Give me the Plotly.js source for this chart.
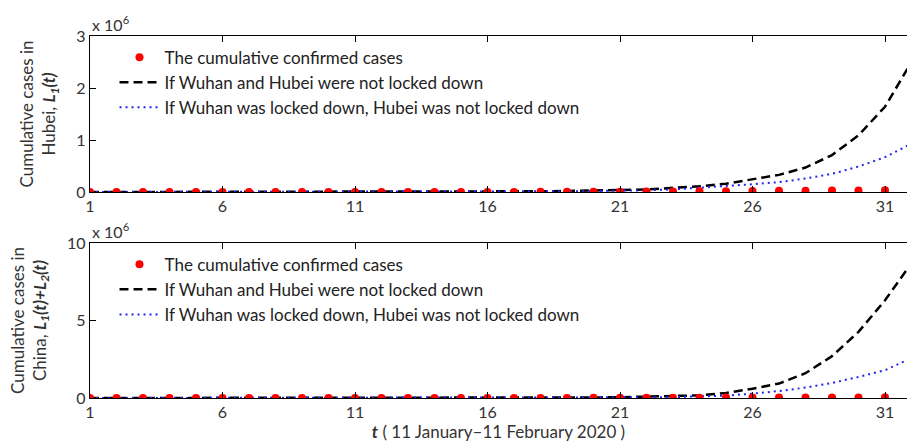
<!DOCTYPE html>
<html>
<head>
<meta charset="utf-8">
<script src="https://cdn.plot.ly/plotly-3.0.1.min.js"></script>
<style>html,body{margin:0;padding:0;background:#fff;overflow:hidden}</style>
</head>
<body>
<div id="chart" style="width:907px;height:447px"></div>
<script>
// t = 1 ... 32 (11 January – 11 February 2020)
const days = Array.from({length: 32}, (_, i) => i + 1);
const xTickVals = [1, 6, 11, 16, 21, 26, 31];

// Cumulative confirmed cases
const hubeiConfirmed = [41, 41, 41, 41, 41, 45, 62, 121, 198, 270, 375, 444, 549, 729, 1052, 1423,
  2714, 3554, 4586, 5806, 7153, 9074, 11177, 13522, 16678, 19665, 22112, 24953, 27100, 29631, 31728, 33366];
const chinaConfirmed = [41, 41, 41, 41, 41, 45, 62, 121, 201, 291, 440, 571, 830, 1287, 1975, 2744,
  4515, 5974, 7711, 9692, 11791, 14380, 17205, 20438, 24324, 28018, 31161, 34546, 37198, 40171, 42638, 44653];

// Model: Wuhan and Hubei not locked down
const hubeiNoLock = [60, 80, 110, 150, 200, 280, 380, 520, 700, 950, 1300, 1800, 2500, 3500, 5000, 7000,
  10000, 14000, 19000, 26000, 35000, 50000, 80000, 110000, 160000, 240000, 330000, 470000, 710000, 1090000, 1640000, 2500000];
// Model: Wuhan locked down, Hubei not locked down
const hubeiWuhanLock = [60, 80, 110, 150, 200, 280, 380, 520, 700, 950, 1300, 1800, 2500, 3300, 4500, 6000,
  8000, 10500, 14000, 18500, 24000, 34000, 50000, 80000, 110000, 150000, 190000, 260000, 350000, 490000, 670000, 930000];

const chinaNoLock = [70, 95, 130, 180, 240, 330, 450, 620, 850, 1150, 1600, 2200, 3100, 4400, 6200, 8800,
  12500, 17500, 25000, 35000, 50000, 80000, 120000, 170000, 320000, 600000, 930000, 1600000, 2700000, 4270000, 6300000, 8700000];
const chinaWuhanLock = [70, 95, 130, 180, 240, 330, 450, 620, 850, 1150, 1600, 2200, 3100, 4200, 5800, 7800,
  10500, 14000, 19000, 25000, 33000, 45000, 60000, 85000, 150000, 280000, 450000, 670000, 970000, 1360000, 1790000, 2580000];

const legendNames = [
  'The cumulative confirmed cases',
  'If Wuhan and Hubei were not locked down',
  'If Wuhan was locked down, Hubei was not locked down'
];

const FONT = 'Lato, "Open Sans", sans-serif';
const dotStyle = {color: '#ff0000', size: 8};
const dashStyle = {color: '#000000', width: 2.5, dash: '9px,5px'};
const dottedStyle = {color: '#2323f0', width: 2, dash: '2px,4px'};

function makeTraces(confirmed, noLock, wuhanLock, xa, ya, legend) {
  return [
    {x: days, y: noLock, xaxis: xa, yaxis: ya, mode: 'lines', line: dashStyle,
     name: legendNames[1], legend: legend, legendrank: 2, legendgroup: legend + 'b'},
    {x: days, y: wuhanLock, xaxis: xa, yaxis: ya, mode: 'lines', line: dottedStyle,
     name: legendNames[2], legend: legend, legendrank: 3, legendgroup: legend + 'c'},
    {x: days, y: confirmed, xaxis: xa, yaxis: ya, mode: 'markers', marker: dotStyle,
     name: legendNames[0], legend: legend, legendrank: 1, legendgroup: legend + 'a'}
  ];
}

const data = [
  ...makeTraces(hubeiConfirmed, hubeiNoLock, hubeiWuhanLock, 'x', 'y', 'legend'),
  ...makeTraces(chinaConfirmed, chinaNoLock, chinaWuhanLock, 'x2', 'y2', 'legend2')
];

const xBase = {
  range: [1, 31.83], tickvals: xTickVals, ticktext: xTickVals.map(String),
  ticks: 'inside', ticklen: 6, tickwidth: 1, tickcolor: '#000',
  showline: true, linecolor: '#000', linewidth: 1.2, mirror: 'ticks',
  showgrid: false, zeroline: false,
  tickfont: {family: FONT, size: 16, color: '#333'}
};
const yBase = {
  ticks: 'inside', ticklen: 6, tickwidth: 1, tickcolor: '#000',
  showline: true, linecolor: '#000', linewidth: 1.2, mirror: false,
  showgrid: false, zeroline: false,
  tickfont: {family: FONT, size: 16, color: '#333'}
};
const legendBase = {
  font: {family: FONT, size: 17, color: '#222'},
  bgcolor: 'rgba(0,0,0,0)', borderwidth: 0,
  traceorder: 'normal', tracegroupgap: 7, itemwidth: 40,
  xanchor: 'left', yanchor: 'top'
};

const layout = {
  width: 907, height: 447,
  margin: {l: 90, r: 0, t: 36, b: 49},
  paper_bgcolor: '#fff', plot_bgcolor: '#fff',
  showlegend: true,
  font: {family: FONT, size: 16, color: '#222'},
  xaxis: Object.assign({}, xBase, {domain: [0, 1], anchor: 'y'}),
  yaxis: Object.assign({}, yBase, {domain: [0.569, 1], anchor: 'x', range: [0, 3e6],
    tickvals: [0, 1e6, 2e6, 3e6], ticktext: ['0', '1', '2', '3'],
    title: {text: 'Cumulative cases in<br>Hubei, <b><i>L</i></b><sub><b><i>1</i></b></sub><b><i>(t)</i></b>',
      font: {family: FONT, size: 17, color: '#333'}, standoff: 16}}),
  xaxis2: Object.assign({}, xBase, {domain: [0, 1], anchor: 'y2',
    title: {text: '<b><i>t</i></b> ( 11 January–11 February 2020 )',
      font: {family: FONT, size: 17, color: '#333'}, standoff: 4}}),
  yaxis2: Object.assign({}, yBase, {domain: [0, 0.4282], anchor: 'x2', range: [0, 10e6],
    tickvals: [0, 5e6, 10e6], ticktext: ['0', '5', '10'],
    title: {text: 'Cumulative cases in<br>China, <b><i>L</i></b><sub><b><i>1</i></b></sub><b><i>(t)+L</i></b><sub><b><i>2</i></b></sub><b><i>(t)</i></b>',
      font: {family: FONT, size: 17, color: '#333'}, standoff: 16}}),
  legend: Object.assign({}, legendBase, {x: 0.03, y: 0.99}),
  legend2: Object.assign({}, legendBase, {x: 0.03, y: 0.418}),
  annotations: [
    {xref: 'x domain', yref: 'y domain', x: 0, y: 1, xanchor: 'left', yanchor: 'bottom',
     text: 'x 10<sup>6</sup>', showarrow: false, font: {family: FONT, size: 16, color: '#333'}},
    {xref: 'x2 domain', yref: 'y2 domain', x: 0, y: 1, xanchor: 'left', yanchor: 'bottom',
     text: 'x 10<sup>6</sup>', showarrow: false, font: {family: FONT, size: 16, color: '#333'}}
  ]
};

Plotly.newPlot('chart', data, layout, {displayModeBar: false, staticPlot: true});
</script>
</body>
</html>
